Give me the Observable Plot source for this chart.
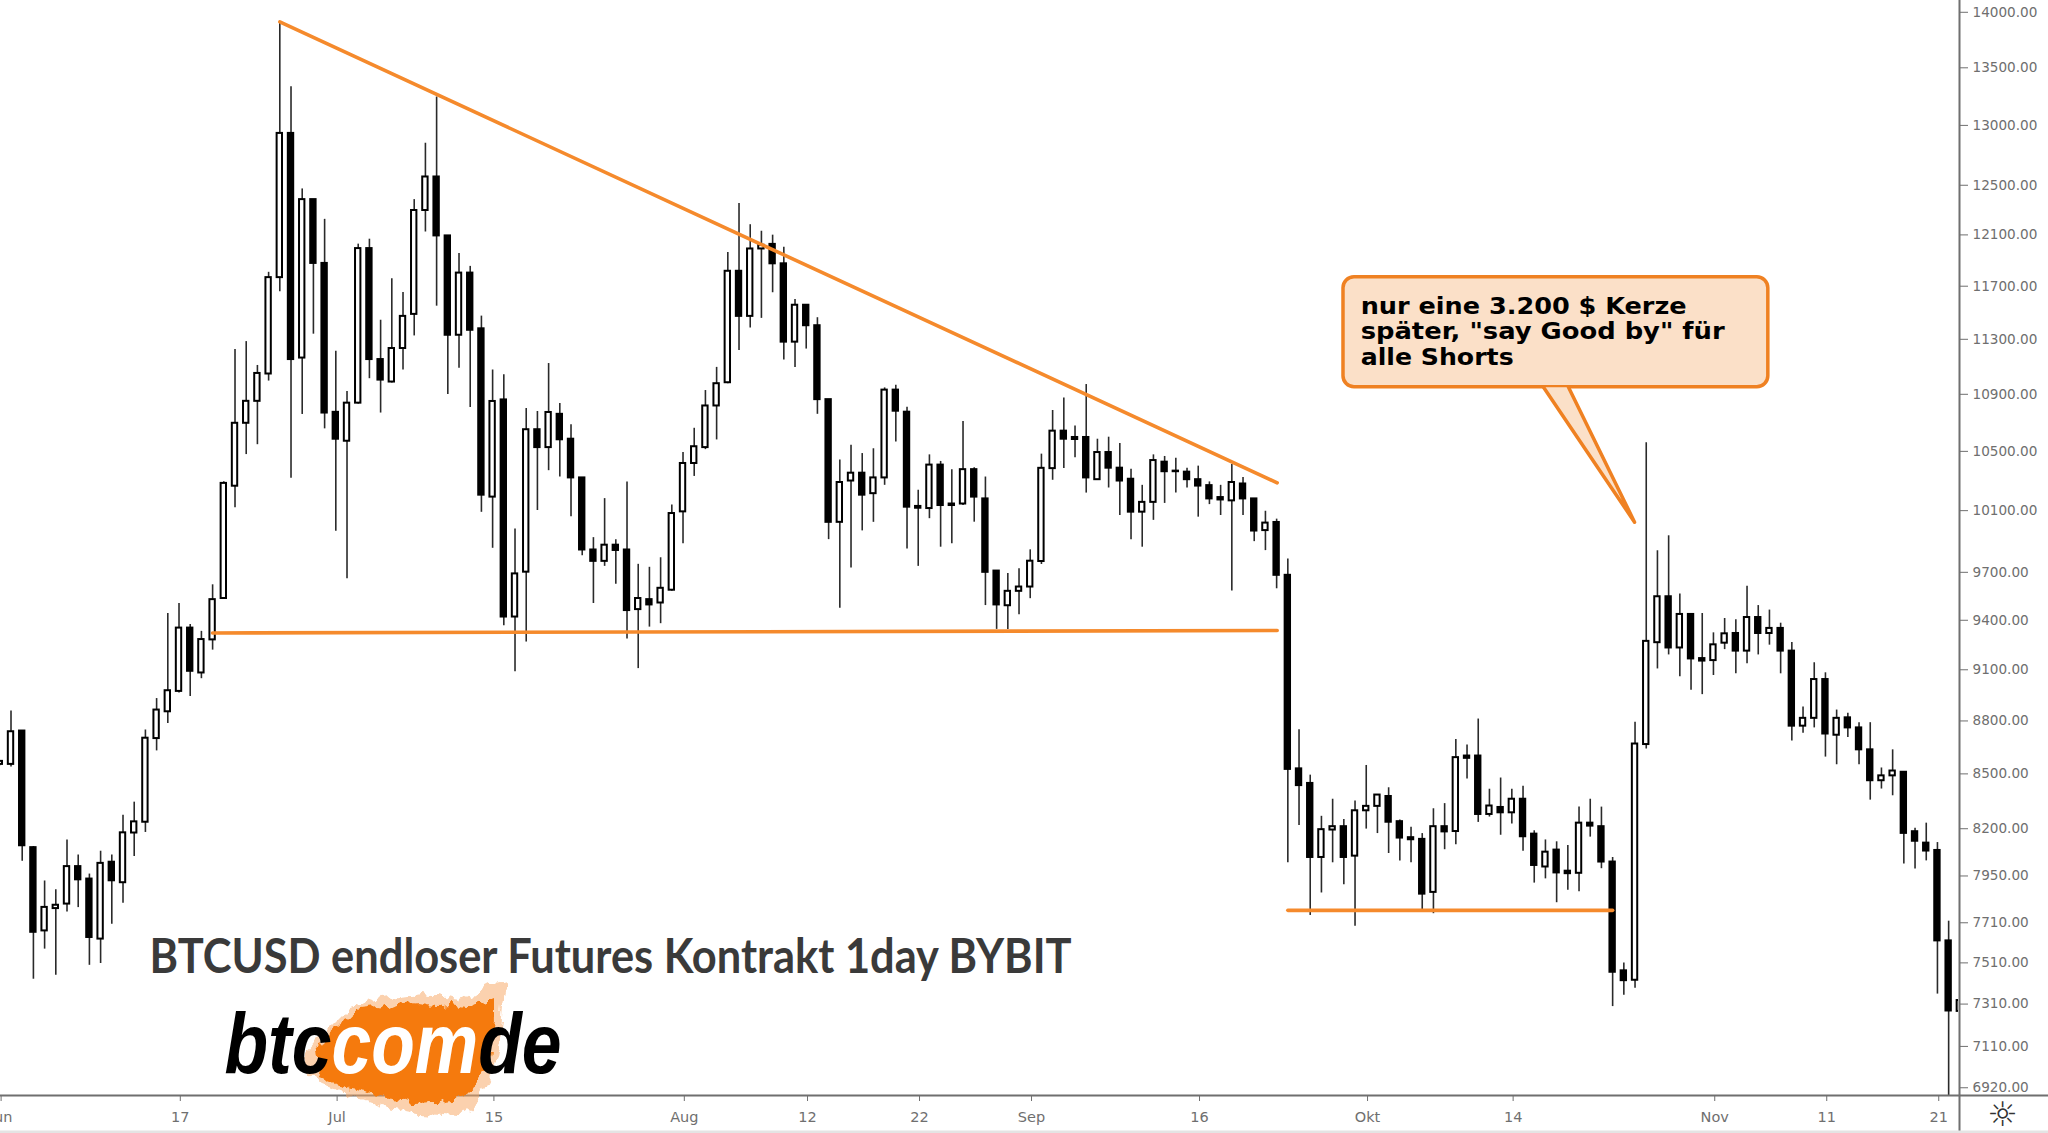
<!DOCTYPE html>
<html>
<head>
<meta charset="utf-8">
<style>html,body{margin:0;padding:0;background:#fff;overflow:hidden}svg{display:block}</style>
<script src="https://cdn.jsdelivr.net/npm/d3@7"></script>
<script src="https://cdn.jsdelivr.net/npm/@observablehq/plot@0.6"></script>
</head>
<body>
<div id="chart"></div>
<script>
// Daily candles, 1 Jun 2019 – 23 Nov 2019 (one row per month)
const firstDay = Date.UTC(2019, 5, 1);
const direction = "WWBBWWWBBWBWWWWWWBWWWWWWWWBWBB" + "BWWBBWWWWBBWBBWBWWBWBBBBWBBWBWW" +
  "WWWWWBWWBBWBBBWWBWWBBBWBBWBBBWW" + "WWWBBBWBBBWWBBBBBBWBBWBBBBWWBW" +
  "WWBBBBWBWBBWBWBBWBBWBBBBWWWBWBB" + "WWBWBWBBWWBWBBBWWBBBBBW";
const highs = [
  8575,8857,8745,8105,7924,7878,8140,8060,7960,8080,8060,8273,8344,8748,8930,9442,9504,9374,9332,9621,10293,11224,11283,11108,11807,13912,13333,12470,12383,12224,
  11212,10920,12027,12066,11442,11757,11652,12383,12849,13244,12092,11954,11853,11473,11075,11041,9980,10799,10778,11122,10834,10684,10320,9923,10180,9910,10292,9751,9732,9793,10137,
  10492,10660,10927,11094,11961,12351,12181,12129,12098,12003,11598,11555,11461,10862,10441,10543,10485,10518,10946,10965,10808,10236,10476,10431,10375,10708,10388,10325,9708,9692,9723,
  9844,10481,10785,10873,10676,10970,10584,10598,10555,10377,10269,10476,10465,10453,10385,10399,10292,10269,10410,10321,10178,10096,10044,9785,8750,8493,8267,8360,8250,8350,
  8547,8385,8423,8247,8208,8174,8308,8336,8693,8663,8811,8415,8477,8415,8432,8189,8140,8130,8111,8317,8360,8317,8047,7510,8792,10560,9838,9935,9563,9436,9442,
  9323,9411,9403,9612,9491,9463,9382,9264,8881,9142,9082,8863,8845,8790,8790,8533,8635,8509,8203,8230,8126,7718,7330
];
const bodyTops = [
  8570,8738,8742,8099,7788,7799,7999,7999,7934,8016,8022,8178,8237,8701,8863,8976,9352,9352,9282,9528,10282,10695,10850,11050,11766,12932,12932,12383,12383,11876,
  10772,10837,11992,11992,11151,11232,11471,12295,12568,12568,12092,11801,11801,11378,10849,10860,9690,10650,10650,10771,10758,10584,10319,9843,9874,9874,9843,9535,9528,9599,10081,
  10417,10532,10817,10976,11815,11815,11989,12018,12025,11873,11555,11555,11401,10862,10288,10351,10351,10319,10930,10930,10773,10128,10406,10406,10144,10375,10375,10178,9708,9580,9607,
  9771,10384,10640,10640,10596,10596,10492,10492,10385,10310,10155,10437,10426,10365,10358,10307,10267,10187,10288,10278,10178,10018,10022,9681,8528,8447,8195,8211,8211,8297,
  8321,8383,8375,8238,8152,8143,8211,8211,8591,8600,8600,8323,8315,8360,8360,8171,8075,8086,7975,8230,8230,8211,8023,7471,8668,9271,9546,9546,9436,9436,9167,
  9250,9317,9319,9417,9417,9350,9350,9212,8815,9042,9042,8815,8818,8760,8635,8489,8516,8509,8184,8123,8084,7619,7327
];
const bodyBottoms = [
  8553,8553,8109,7662,7669,7782,7805,7930,7636,7628,7925,7915,8177,8235,8699,8853,8972,9091,9081,9280,9535,10263,10695,10850,11046,11766,11151,11162,11876,10767,
  10584,10570,10837,11151,11002,10988,11232,11486,12295,12092,11330,11330,11367,10203,10190,9420,9420,9701,10526,10526,10580,10319,9843,9770,9770,9840,9460,9466,9495,9507,9587,
  10092,10417,10526,10817,10983,11471,11471,11989,11873,11279,11279,11401,10862,10023,10023,10298,10203,10213,10319,10780,10123,10116,10114,10134,10134,10144,10190,9700,9495,9490,9580,
  9607,9769,10382,10584,10582,10319,10307,10385,10298,10090,10090,10155,10361,10361,10307,10264,10178,10171,10165,10178,9966,9969,9681,8525,8435,8047,8047,8193,8047,8054,
  8297,8321,8235,8150,8141,7856,7865,8183,8185,8587,8277,8277,8286,8286,8157,8005,7997,7966,7962,7964,8214,8023,7464,7423,7425,8665,9263,9231,9231,9165,9152,
  9155,9260,9212,9212,9319,9319,9212,8770,8770,8815,8725,8718,8760,8635,8462,8462,8489,8175,8133,8081,7619,7277,7275
];
const lows = [
  8545,8539,8027,7430,7578,7450,7764,7787,7498,7507,7703,7809,8052,8180,8629,8786,8963,8942,9047,9218,9530,10120,10478,10546,10995,11658,10316,10757,11338,10656,
  9964,9660,10830,11012,10767,10981,11075,11325,12123,11548,10899,11087,10806,10089,9854,9367,9088,9267,10101,10368,10326,10059,9806,9504,9738,9624,9285,9107,9358,9379,9580,
  9884,10329,10512,10579,10976,11217,11384,11456,11650,11148,11094,11228,10758,9910,9474,9727,9967,10023,10269,10565,9850,9738,10047,9861,9883,10134,10024,9491,9344,9344,9434,
  9534,9750,10303,10382,10456,10217,10305,10251,10068,9910,9861,10036,10148,10217,10251,10057,10140,10068,9582,10068,9897,9839,9596,8019,8217,7747,7862,8019,7904,7693,
  8198,8174,8068,8029,8019,7773,7756,8088,8115,8471,8234,8263,8165,8225,8080,7913,7935,7812,7876,7868,8155,7988,7298,7353,7386,8640,9105,9189,9058,8979,8953,
  9066,9221,9076,9136,9189,9248,9076,8685,8730,8760,8594,8551,8705,8551,8355,8416,8379,8013,7986,8029,7358,6790,7270
];

// Axis ticks
const priceTicks = [14000,13500,13000,12500,12100,11700,11300,10900,10500,10100,9700,9400,9100,8800,8500,8200,7950,7710,7510,7310,7110,6920];
const dateTickDays = [0,16,30,44,61,72,82,92,107,122,135,153,163,173];
const dateTickLabels = ["Jun","17","Jul","15","Aug","12","22","Sep","16","Okt","14","Nov","11","21"];

// Annotations: [day since 1 Jun, price]
const resistanceLine = [[25,13912],[114.05,10286]];
const supportLine = [[19,9322],[114.05,9337]];
const lowerSupportLine = [[115,7773],[144,7773]];
const calloutBox = {day1:119.97, day2:157.9, price1:10951, price2:11769.5};
const calloutTail = [[137.83,10951],[145.96,10024],[140.06,10951]];
const calloutLines = [
  {text:'nur eine 3.200 $ Kerze', price:11490, length:326},
  {text:'später, "say Good by" für', price:11299, length:364},
  {text:'alle Shorts', price:11113, length:153}
];
const chartTitle = "BTCUSD endloser Futures Kontrakt 1day BYBIT";
const logoParts = [{text:"btc", fill:"#000"}, {text:"com", fill:"#fff"}, {text:"de", fill:"#000"}];
const logoText = logoParts.map(d => d.text).join("");

const dayAt = n => new Date(firstDay + n * 864e5);
const candles = highs.map((high, i) => ({
  date: dayAt(i), day: i, high, low: lows[i], top: bodyTops[i], bottom: bodyBottoms[i], up: direction[i] === "W"
}));
const toRows = pts => pts.map(([d, p]) => ({date: dayAt(d), price: p}));
const orange = "#f58a2c";
const axisGray = "#6f6f6f";
const halfBody = 0.24;

// Logo splash behind the "com" lettering
function splash() {
  const g = d3.create("svg:g");
  const f = g.append("filter").attr("id", "rough").attr("x", "-15%").attr("y", "-15%").attr("width", "130%").attr("height", "130%");
  f.append("feTurbulence").attr("type", "fractalNoise").attr("baseFrequency", "0.09 0.05").attr("numOctaves", 3).attr("seed", 4).attr("result", "n");
  f.append("feDisplacementMap").attr("in", "SourceGraphic").attr("in2", "n").attr("scale", 17).attr("xChannelSelector", "R").attr("yChannelSelector", "G");
  const fringe = [[306,1052],[326,1030],[348,1008],[380,998],[420,994],[460,1000],[490,984],[508,982],[503,1006],[500,1040],[493,1075],[476,1105],[460,1116],[420,1114],[382,1106],[350,1094],[322,1084],[308,1072]];
  const core = [[313,1050],[322,1045],[330,1030],[346,1018],[360,1009],[377,1007],[392,1010],[405,1004],[417,1003],[436,1006],[452,1004],[467,1007],[482,1003],[494,998],[494,1020],[490,1040],[488,1056],[483,1072],[478,1080],[472,1090],[464,1098],[446,1100],[432,1104],[417,1105],[402,1100],[380,1098],[366,1090],[349,1087],[332,1082],[320,1077],[322,1069],[315,1064]];
  const line = d3.line().curve(d3.curveLinearClosed);
  g.append("path").attr("d", line(fringe)).attr("fill", "#f8a560").attr("opacity", 0.5).attr("filter", "url(#rough)");
  g.append("path").attr("d", line(core)).attr("fill", "#f57a0c").attr("filter", "url(#rough)");
  return g.node();
}

const chart = Plot.plot({
  width: 2048,
  height: 1133,
  marginLeft: 0,
  marginRight: 90,
  marginTop: 0,
  marginBottom: 38,
  style: {fontFamily: "'DejaVu Sans', sans-serif", background: "#fff", overflow: "hidden"},
  x: {type: "utc", domain: [dayAt(0.062), dayAt(174.88)], axis: null},
  y: {type: "log", domain: [6885, 14108.6], axis: null},
  marks: [
    Plot.ruleX(candles, {x: "date", y1: "low", y2: "high", stroke: "#2a2a2a", strokeWidth: 1.6, clip: true}),
    Plot.rect(candles, {
      x1: d => dayAt(d.day - halfBody), x2: d => dayAt(d.day + halfBody),
      y1: "bottom", y2: "top",
      fill: d => d.up ? "#ffffff" : "#000000",
      stroke: "#000", strokeWidth: 2, clip: true
    }),
    Plot.line(toRows(resistanceLine), {x: "date", y: "price", stroke: orange, strokeWidth: 3.6}),
    Plot.line(toRows(supportLine), {x: "date", y: "price", stroke: orange, strokeWidth: 3.6}),
    Plot.line(toRows(lowerSupportLine), {x: "date", y: "price", stroke: orange, strokeWidth: 3.6}),

    Plot.ruleX([dayAt(174.88)], {stroke: axisGray, strokeWidth: 2, dx: 1, insetBottom: -38}),
    Plot.ruleY([6885], {stroke: axisGray, strokeWidth: 2, insetRight: -90}),
    Plot.ruleY([6885], {stroke: "#e4e4e4", strokeWidth: 3, dy: 36.5, insetRight: -90}),
    Plot.axisY(priceTicks, {
      anchor: "right", label: null, tickSize: 8, tickPadding: 5, dx: 1,
      tickFormat: d3.format(".2f"), fontSize: 13.6, color: axisGray
    }),
    Plot.axisX(dateTickDays.map(dayAt), {
      anchor: "bottom", label: null, tickSize: 6, tickPadding: 10, dx: 1.3,
      tickFormat: (d, i) => dateTickLabels[i], fontSize: 14.5, color: axisGray
    }),
    Plot.text(["☼"], {frameAnchor: "bottom-right", dx: 44, dy: 20, textAnchor: "middle", lineAnchor: "middle", fontSize: 34, fill: "#333"}),

    // Title and logo
    Plot.text([chartTitle], {x: dayAt(13.37), y: 7459, textAnchor: "start", lineAnchor: "bottom",
      fontFamily: "Lato", fontWeight: 700, fontSize: 47, fill: "#3a3a3a"}),
    splash,
    Plot.text([logoText], {x: dayAt(20.06), y: 6986, textAnchor: "start", lineAnchor: "bottom", fontFamily: "Liberation Sans", fontWeight: 700, fontStyle: "italic", fontSize: 86, fill: "#000"}),

    // Callout
    Plot.rect([calloutBox], {
      x1: d => dayAt(d.day1), x2: d => dayAt(d.day2), y1: "price1", y2: "price2",
      rx: 11, fill: "#fbe0c8", stroke: "#ef8122", strokeWidth: 3.5
    }),
    Plot.line(toRows(calloutTail), {x: "date", y: "price", stroke: "#ef8122", strokeWidth: 3.5, fill: "#fbe0c8"}),
    Plot.text(calloutLines, {
      x: () => dayAt(121.5), y: "price", text: "text", textAnchor: "start", lineAnchor: "bottom",
      fontFamily: "DejaVu Sans", fontWeight: 700, fontSize: 23.5, fill: "#000"
    })
  ]
});

// Fit the annotation strings to the widths they occupy in the chart
const widths = new Map([[chartTitle, 922], [logoText, 337],
  ...calloutLines.map(d => [d.text, d.length])]);
d3.select(chart).selectAll("text").each(function () {
  const w = widths.get(this.textContent);
  if (w) { this.setAttribute("textLength", w); this.setAttribute("lengthAdjust", "spacingAndGlyphs"); }
  if (this.textContent === logoText) {
    this.textContent = "";
    const t = d3.select(this);
    logoParts.forEach(p => t.append("tspan").attr("fill", p.fill).text(p.text));
  }
});
document.getElementById("chart").append(chart);
</script>
</body>
</html>
